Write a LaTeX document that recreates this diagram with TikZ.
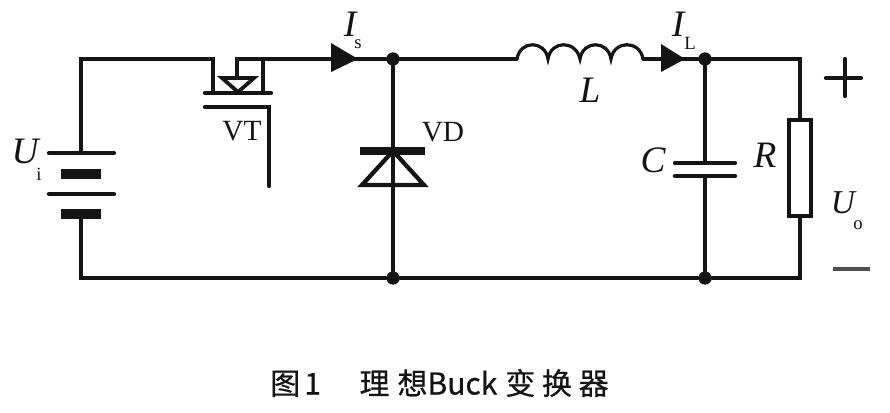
\documentclass[tikz,border=0pt]{standalone}
\usepackage{fontspec}
\setmainfont{Liberation Serif}
\newfontfamily\cjk[FakeBold=0.6]{Noto Sans CJK SC}
\definecolor{ink}{RGB}{20,20,20}
\tikzset{
  wire/.style={draw=ink,line width=2.4pt,line cap=round,line join=miter},
  thinplate/.style={draw=ink,line width=3.2pt,line cap=round},
  thickplate/.style={draw=ink,line width=7pt},
  dotj/.style={circle,fill=ink,inner sep=0pt,minimum size=10pt},
  arrowhead/.style={fill=ink,draw=none},
  lab/.style={inner sep=0pt,text=ink,font=\fontsize{22}{24}\selectfont},
  varlab/.style={inner sep=0pt,text=ink,font=\fontsize{28}{30}\selectfont\itshape},
  sublab/.style={inner sep=0pt,text=ink,font=\fontsize{14}{16}\selectfont},
}
\begin{document}
\begin{tikzpicture}[x=0.75pt,y=-0.75pt]
\useasboundingbox (0,0) rectangle (890,413);
% named points
\coordinate (tl) at (81,59);
\coordinate (bl) at (81,278);
\coordinate (br) at (800,278);
\coordinate (tr) at (800,59);
\coordinate (batTop) at (81,153);
\coordinate (batBot) at (81,214);
\coordinate (msL) at (213,59);
\coordinate (msLb) at (213,93);
\coordinate (msM) at (237,59);
\coordinate (msMb) at (237,77);
\coordinate (msR) at (263,59);
\coordinate (msRb) at (263,93);
\coordinate (indL) at (517,59);
\coordinate (indR) at (643,59);
\node[dotj] (j1) at (393,59) {};
\node[dotj] (j2) at (393,278) {};
\node[dotj] (j3) at (705,59) {};
\node[dotj] (j4) at (705,278) {};
\coordinate (capT) at (705,163);
\coordinate (capB) at (705,176);
\node[draw=ink,line width=3.2pt,inner sep=0pt,fill=white,
      shape=rectangle,minimum width=16pt,minimum height=72pt] (res) at (800,168) {};
% wiring
\draw[wire] (batTop) -- (tl) -- (msL) -- (msLb);
\draw[wire] (batBot) -- (bl) -- (j2) -- (j4) -- (br) -- (res.south);
\draw[wire] (msMb) -- (msM) -- (msR) -- (msRb);
\draw[wire] (msR) -- (j1) -- (indL);
\draw[wire] (indR) -- (j3) -- (tr) -- (res.north);
\draw[wire] (j1) -- (j2);
\draw[wire] (j3) -- (capT);
\draw[wire] (capB) -- (j4);
% battery
\draw[thinplate] (49,153) -- (114,153);
\draw[thickplate] (61,174) -- (101,174);
\draw[thinplate] (49,194) -- (114,194);
\draw[thickplate] (61,214) -- (101,214);
% MOSFET
\draw[thinplate] (205,93) -- (271,93);
\draw[thinplate] (205,107) -- (269,107) -- (269,186);
\draw[draw=ink,line width=2.8pt,fill=white,line join=miter] (222,78) -- (254,78) -- (238,92) -- cycle;
% arrows
\fill[arrowhead] (331,43) -- (358,59) -- (331,72) -- cycle;
\fill[arrowhead] (661,44) -- (685,59) -- (661,72) -- cycle;
% diode
\draw[draw=ink,line width=3.2pt,line join=miter] (393,151) -- (362,185) -- (424,185) -- cycle;
\draw[draw=ink,line width=6pt] (360,151) -- (425,151);
% inductor
\draw[wire,line cap=butt] (indL)
  .. controls (520,40) and (545,40) .. (548,59)
  .. controls (551,40) and (576,40) .. (580,59)
  .. controls (583,40) and (608,40) .. (611,59)
  .. controls (614,40) and (640,40) .. (indR);
% capacitor
\draw[thinplate] (675,163) -- (735,163);
\draw[thinplate] (675,176) -- (735,176);
% polarity
\draw[thinplate] (826,78) -- (861,78);
\draw[thinplate] (845,59) -- (845,96);
\draw[draw=ink!75,line width=2.4pt] (833,269) -- (870,269);
% labels
\node[lab] (vt) at (242,131) {VT};
\node[lab] (vd) at (443,132) {VD};
\node[varlab] (ui) at (25,151) {U};
\node[sublab] (uis) at (39,174) {i};
\node[varlab] (is) at (350,24) {I};
\node[sublab] (iss) at (358,44) {s};
\node[varlab] (ll) at (590,90) {L};
\node[varlab] (il) at (678,24) {I};
\node[sublab] (ils) at (690,43) {L};
\node[varlab] (cc) at (653,160) {C};
\node[varlab] (rr) at (765,155) {R};
\node[varlab,font=\fontsize{25}{27}\selectfont\itshape] (uo) at (843,203) {U};
\node[sublab] (uos) at (858,225) {o};
% caption
\node[inner sep=0pt,anchor=west,text=ink,font=\fontsize{22.5}{24}\selectfont\cjk] (cap) at (270,383)
 {图\hspace{3pt}1\hspace{29pt}理\hspace{6pt}想Buck\hspace{6pt}变\hspace{5pt}换\hspace{5pt}器};
\end{tikzpicture}
\end{document}
